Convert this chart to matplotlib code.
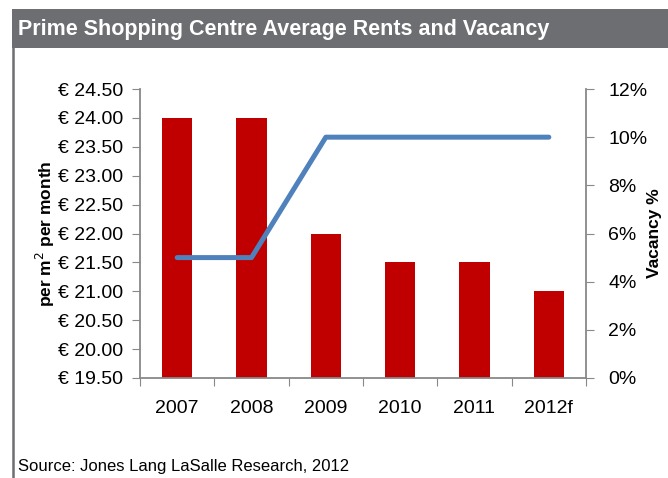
import matplotlib
matplotlib.use('Agg')
import matplotlib.pyplot as plt
from matplotlib.patches import Rectangle
from matplotlib.lines import Line2D
from matplotlib.ticker import FuncFormatter, MultipleLocator

years = ['2007', '2008', '2009', '2010', '2011', '2012f']
rents = [24.00, 24.00, 22.00, 21.50, 21.50, 21.00]
vacancy = [5, 5, 10, 10, 10, 10]

plt.rcParams['font.family'] = ['Liberation Sans', 'DejaVu Sans']

W, H = 668, 478
fig = plt.figure(figsize=(W / 100, H / 100), dpi=100)

def fx(px):
    return px / W

def fy(py):
    return 1 - py / H

# title bar and left border line
fig.patches.append(Rectangle((fx(12), fy(48)), fx(656), 39 / H, transform=fig.transFigure,
                             facecolor='#6d6e71', edgecolor='none'))
fig.lines.append(Line2D([fx(13), fx(13)], [fy(48), 0], transform=fig.transFigure,
                        color='#6d6e71', linewidth=1.8))
fig.text(fx(18), fy(30), 'Prime Shopping Centre Average Rents and Vacancy', color='white',
         fontsize=15.5, fontweight='bold', va='center', ha='left')
fig.text(fx(18), fy(466), 'Source: Jones Lang LaSalle Research, 2012', fontsize=12,
         va='center', ha='left')

ax = fig.add_axes([fx(140), 1 - 378 / H, fx(586 - 140), (378 - 89) / H])
x = list(range(len(years)))
ax.bar(x, [r - 19.5 for r in rents], bottom=19.5, width=0.41, color='#c00000', zorder=2)
ax.set_xlim(-0.5, len(years) - 0.5)
ax.set_ylim(19.5, 24.5)
ax.yaxis.set_major_locator(MultipleLocator(0.5))
ax.yaxis.set_major_formatter(FuncFormatter(lambda v, p: '€ %.2f' % v))
ax.set_xticks([i - 0.5 for i in range(len(years) + 1)])
ax.set_xticklabels([])
ax.set_xticks(x, minor=True)
ax.set_xticklabels(years, minor=True)
ax.tick_params(axis='x', which='minor', length=0, pad=16, labelsize=14)
ax.tick_params(axis='x', which='major', length=6, color='#888888', direction='out')
ax.tick_params(axis='y', length=6, color='#888888', labelsize=14, pad=6)
for s in ['top', 'right']:
    ax.spines[s].set_visible(False)
for s in ['left', 'bottom']:
    ax.spines[s].set_color('#888888')
    ax.spines[s].set_linewidth(1.3)
ax.set_ylabel('per m$^2$ per month', fontsize=12.5, fontweight='bold', labelpad=1)

ax2 = ax.twinx()
ax2.plot(x, vacancy, color='#4f81bd', linewidth=3.6, solid_capstyle='round', zorder=3)
ax2.set_ylim(0, 12)
ax2.yaxis.set_major_locator(MultipleLocator(2))
ax2.yaxis.set_major_formatter(FuncFormatter(lambda v, p: '%d%%' % v))
ax2.tick_params(axis='y', length=6, color='#888888', labelsize=14, pad=10)
for s in ['top', 'left', 'bottom']:
    ax2.spines[s].set_visible(False)
ax2.spines['right'].set_color('#888888')
ax2.spines['right'].set_linewidth(1.3)
ax2.set_ylabel('Vacancy %', fontsize=12.5, fontweight='bold', rotation=90, labelpad=0)

fig.savefig('out.png', dpi=100)
